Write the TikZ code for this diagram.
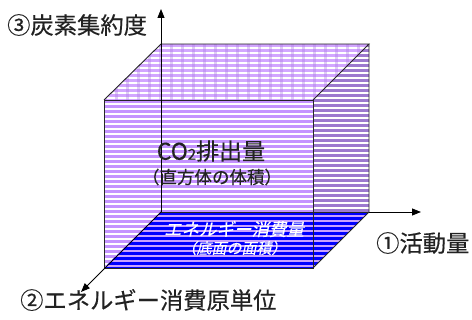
\documentclass[tikz,border=0pt]{standalone}
\usepackage{fontspec}
\setmainfont{Noto Sans CJK JP}[FakeBold=0.4]
\newfontfamily\jpit[FakeSlant=0.22,FakeBold=0.3]{Noto Sans CJK JP}
\usetikzlibrary{arrows.meta}
\definecolor{frontc}{HTML}{C493FF}
\definecolor{topc}{HTML}{D2A6FF}
\definecolor{topv}{HTML}{B07FE6}
\definecolor{rightc}{HTML}{9C79CE}
\definecolor{botc}{HTML}{0000FF}
\definecolor{botbg}{HTML}{C8A0FF}
\definecolor{txt}{HTML}{222222}
\tikzset{
  axis/.style={line width=0.9pt, -{Triangle[length=9pt,width=7pt]}},
  edge/.style={line width=0.9pt, draw=black!85},
  lbl/.style={text=txt, font=\fontsize{23.3}{26}\selectfont, inner sep=0pt},
  inlbl/.style={text=txt, inner sep=0pt},
  wlbl/.style={text=white, inner sep=0pt}
}
\begin{document}
\begin{tikzpicture}[x=1pt,y=-1pt]
\useasboundingbox (0,0) rectangle (472,320);
% points
\coordinate (ftl) at (104,100);
\coordinate (ftr) at (313,100);
\coordinate (fbl) at (104,268);
\coordinate (fbr) at (313,268);
\coordinate (btl) at (161,44);
\coordinate (btr) at (369,44);
\coordinate (bbl) at (161,212);
\coordinate (bbr) at (369,212);
% front face stripes
\begin{scope}
\clip (ftl) rectangle (fbr);
\foreach \y in {100,105,...,270} \fill[frontc] (104,\y) rectangle (313,\y+3.5);
\end{scope}
% top face stripes
\begin{scope}
\clip (ftl) -- (ftr) -- (btr) -- (btl) -- cycle;
\foreach \y in {44,49,...,100} \fill[topc] (100,\y) rectangle (370,\y+3.5);
\foreach \x in {104,115,...,370} \fill[topv,opacity=0.4] (\x,44) rectangle (\x+3,100);
\end{scope}
% right face stripes
\begin{scope}
\clip (ftr) -- (btr) -- (bbr) -- (fbr) -- cycle;
\foreach \y in {44,49,...,270} \fill[rightc] (313,\y) rectangle (370,\y+3.5);
\end{scope}
% bottom face
\begin{scope}
\clip (fbl) -- (fbr) -- (bbr) -- (bbl) -- cycle;
\fill[botbg] (100,210) rectangle (370,270);
\foreach \y in {212,217,...,270} \fill[botc] (100,\y) rectangle (370,\y+2.6);
\end{scope}
% edges
\draw[edge] (ftl) rectangle (fbr);
\draw[edge] (ftl) -- (btl) -- (btr) -- (ftr);
\draw[edge] (btr) -- (bbr) -- (fbr);
\draw[edge] (bbl) -- (bbr);
% axes
\coordinate (o) at (bbl);
\coordinate (zt) at (161,9);
\coordinate (xt) at (421,212);
\coordinate (yt) at (81,292);
\draw[axis] (o) -- (zt);
\draw[axis] (bbr) -- (xt);
\draw[axis] (o) -- (yt);
% labels
\node[lbl, anchor=west] (lz) at (7,25) {③炭素集約度};
\node[lbl, anchor=west] (lx) at (376,243) {①活動量};
\node[lbl, anchor=west] (ly) at (20,300) {②エネルギー消費原単位};
\node[inlbl, font=\fontsize{23}{26}\selectfont] (co) at (211,151) {CO{\fontsize{15}{17}\selectfont 2}排出量};
\node[inlbl, font=\fontsize{17.5}{20}\selectfont] (vol) at (212,177) {（直方体の体積）};
\node[wlbl, font=\jpit\fontsize{17.5}{20}\selectfont] (en) at (234,229) {エネルギー消費量};
\node[wlbl, font=\jpit\fontsize{15}{17}\selectfont] (area) at (234,248) {（底面の面積）};
\end{tikzpicture}
\end{document}
